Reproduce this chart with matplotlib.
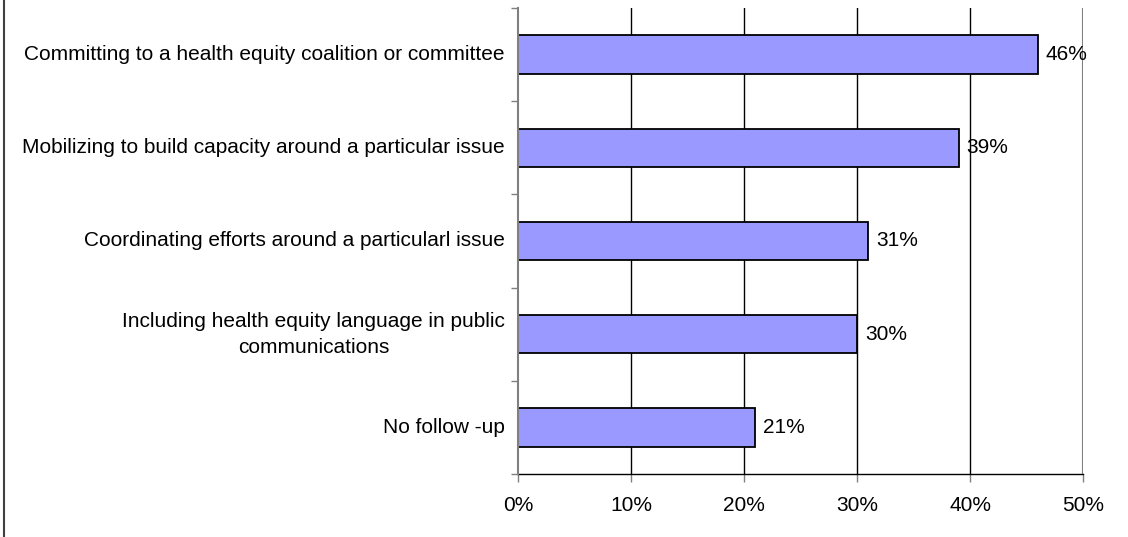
import matplotlib.pyplot as plt
from matplotlib.lines import Line2D
from matplotlib.transforms import offset_copy

categories = [
    'Committing to a health equity coalition or committee',
    'Mobilizing to build capacity around a particular issue',
    'Coordinating efforts around a particularl issue',
    'Including health equity language in public\ncommunications',
    'No follow -up',
]
values = [46, 39, 31, 30, 21]
xticks = [0, 10, 20, 30, 40, 50]

plt.rcParams['font.family'] = ['Liberation Sans', 'DejaVu Sans']
fs = 15

fig = plt.figure(figsize=(11.28, 5.37), dpi=100)
ax = fig.add_axes([518 / 1128, 1 - 474 / 537, 565 / 1128, 466 / 537])

n = len(categories)
pos = list(range(n))
ax.barh(pos, values, height=0.41, color='#9999ff', edgecolor='black',
        linewidth=1.3, zorder=3)
for p, v in zip(pos, values):
    ax.text(v + 0.7, p, f'{v}%', va='center', ha='left', fontsize=fs, zorder=4)

ax.set_xlim(0, 50)
ax.set_ylim(n - 0.5, -0.5)

# category labels sit between the boundary ticks
ax.set_yticks([i - 0.5 for i in range(n + 1)])
ax.set_yticklabels([])
ax.tick_params(axis='y', length=5, width=1, color='#808080')
label_tr = offset_copy(ax.transData, fig=fig, x=-13, y=0, units='dots')
for p, c in zip(pos, categories):
    ax.text(0, p, c, ha='right', va='center', multialignment='center',
            fontsize=fs, linespacing=1.45, transform=label_tr)

ax.set_xticks(xticks)
ax.set_xticklabels([f'{t}%' for t in xticks], fontsize=fs)
ax.tick_params(axis='x', length=6, width=1, color='#808080', pad=10)

# vertical gridlines
for t in xticks[1:-1]:
    ax.axvline(t, color='black', linewidth=1, zorder=1)
ax.axvline(50, color='#808080', linewidth=1.5, zorder=1)

for s in ['top', 'right']:
    ax.spines[s].set_visible(False)
ax.spines['left'].set_color('#808080')
ax.spines['left'].set_linewidth(1.5)
ax.spines['bottom'].set_color('black')
ax.spines['bottom'].set_linewidth(1)
ax.spines['left'].set_zorder(5)

# chart area border on the left edge
fig.add_artist(Line2D([4 / 1128, 4 / 1128], [0, 1], color='#404040',
                      linewidth=1.5, transform=fig.transFigure))

fig.savefig('out.png', dpi=100)
